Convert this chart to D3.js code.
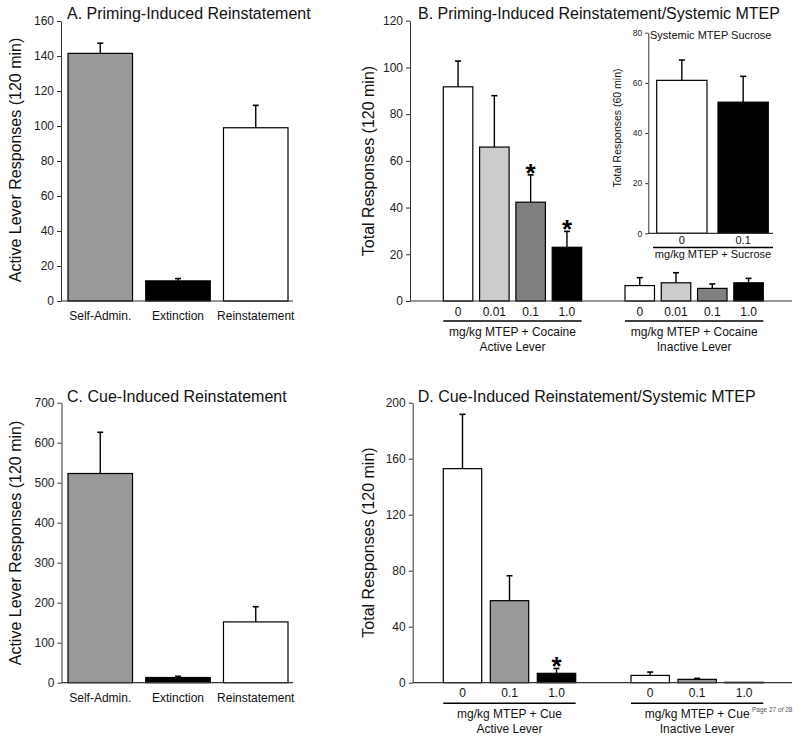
<!DOCTYPE html>
<html><head><meta charset="utf-8">
<script src="https://cdn.jsdelivr.net/npm/d3@7"></script>
<style>body{margin:0;background:#fff}svg text{font-family:"Liberation Sans",Arial,Helvetica,sans-serif}</style>
</head><body><svg id="c" width="800" height="741"></svg>
<script>
// ---------- DATA ----------
const phaseLabels = ["Self-Admin.", "Extinction", "Reinstatement"];
const primingMeans = [141.5, 11.5, 99];
const primingSem = [5.8, 1.3, 12.8];
const cueMeans = [523, 13, 152];
const cueSem = [103, 3, 38];
const phaseFills = ["#999999", "#000000", "#ffffff"];
const ticksA = [0, 20, 40, 60, 80, 100, 120, 140, 160];
const ticksC = [0, 100, 200, 300, 400, 500, 600, 700];

const dosesB = ["0", "0.01", "0.1", "1.0"];
const activeB = [91.7, 65.9, 42.3, 23];
const activeSemB = [11, 22, 11.7, 6.8];
const inactiveB = [6.6, 7.8, 5.4, 7.8];
const inactiveSemB = [3.4, 4.3, 1.9, 1.9];
const sigB = [false, false, true, true];
const fillsB = ["#ffffff", "#cccccc", "#808080", "#000000"];
const ticksB = [0, 20, 40, 60, 80, 100, 120];

const dosesSucrose = ["0", "0.1"];
const sucroseMeans = [61, 52.3];
const sucroseSem = [8.1, 10.3];
const fillsSucrose = ["#ffffff", "#000000"];
const ticksSucrose = [0, 20, 40, 60, 80];

const dosesD = ["0", "0.1", "1.0"];
const activeD = [152.9, 58.6, 6.7];
const activeSemD = [38.8, 17.8, 3.5];
const inactiveD = [5.2, 2.4, 0.3];
const inactiveSemD = [2.4, 0.7, 0];
const sigD = [false, false, true];
const fillsD = ["#ffffff", "#999999", "#000000"];
const ticksD = [0, 40, 80, 120, 160, 200];

// ---------- DRAWING ----------
const FONT = '"Liberation Sans", Arial, Helvetica, sans-serif';
const svg = d3.select("#c");

function yAxis(y, ticks, x0, fs, ts) {
  svg.append("g").attr("transform", `translate(${x0},0)`)
    .call(d3.axisLeft(y).tickValues(ticks).tickSize(ts).tickPadding(3).tickSizeOuter(0))
    .call(g => {
      g.attr("font-family", FONT).attr("font-size", fs);
      g.selectAll("text").attr("fill", "#222");
      g.selectAll("path,line").attr("stroke", "#333").attr("stroke-width", 1);
    });
}
function xLine(x1, x2, yv) {
  svg.append("line").attr("x1", x1).attr("x2", x2).attr("y1", yv).attr("y2", yv)
    .attr("stroke", "#333").attr("stroke-width", 1.2);
}
function bars(x, y, cats, vals, sems, fills, sig) {
  const g = svg.append("g");
  cats.forEach((c, i) => {
    const x0 = x(c), w = x.bandwidth(), cx = x0 + w / 2;
    const top = y(vals[i]), base = y(0);
    g.append("rect").attr("x", x0).attr("y", top).attr("width", w)
      .attr("height", Math.max(0.5, base - top))
      .attr("fill", fills[i]).attr("stroke", "#000").attr("stroke-width", 1.2);
    const et = y(vals[i] + sems[i]);
    if (sems[i] > 0) {
      g.append("line").attr("x1", cx).attr("x2", cx).attr("y1", top).attr("y2", et)
        .attr("stroke", "#000").attr("stroke-width", 1.4);
      g.append("line").attr("x1", cx - 3).attr("x2", cx + 3).attr("y1", et).attr("y2", et)
        .attr("stroke", "#000").attr("stroke-width", 1.6);
    }
    if (sig && sig[i]) {
      g.append("text").attr("x", cx).attr("y", et + 7).attr("text-anchor", "middle")
        .attr("font-size", 26).attr("font-weight", "bold").attr("fill", "#000").text("*");
    }
  });
}
function catLabels(x, cats, yv, fs) {
  cats.forEach(c => {
    svg.append("text").attr("x", x(c) + x.bandwidth() / 2).attr("y", yv)
      .attr("text-anchor", "middle").attr("font-size", fs).attr("fill", "#111").text(c);
  });
}
function groupCaption(x, cats, lineY, lines, lineYs, fs, x1, x2) {
  const a = x1 !== undefined ? x1 : x(cats[0]);
  const b = x2 !== undefined ? x2 : x(cats[cats.length - 1]) + x.bandwidth();
  svg.append("line").attr("x1", a).attr("x2", b).attr("y1", lineY).attr("y2", lineY)
    .attr("stroke", "#000").attr("stroke-width", 1.5);
  lines.forEach((t, i) => {
    svg.append("text").attr("x", (a + b) / 2).attr("y", lineYs[i]).attr("text-anchor", "middle")
      .attr("font-size", fs).attr("fill", "#111").text(t);
  });
}
function title(t, x, yv, fs) {
  svg.append("text").attr("x", x).attr("y", yv).attr("font-size", fs).attr("fill", "#111").text(t);
}
function yLabel(t, cx, cy, fs) {
  svg.append("text").attr("transform", `translate(${cx},${cy}) rotate(-90)`)
    .attr("text-anchor", "middle").attr("dy", "0.35em").attr("font-size", fs).attr("fill", "#111").text(t);
}

// ----- Panel A -----
{
  const x = d3.scaleBand().domain(phaseLabels).range([68, 288]).paddingInner(0.17);
  const y = d3.scaleLinear().domain([0, 160]).range([301, 21]);
  bars(x, y, phaseLabels, primingMeans, primingSem, phaseFills);
  yAxis(y, ticksA, 61, 12, 4);
  xLine(61, 293, y(0));
  catLabels(x, phaseLabels, 320, 12);
  title("A. Priming-Induced Reinstatement", 67, 19, 16);
  yLabel("Active Lever Responses (120 min)", 15, 160, 16);
}
// ----- Panel B -----
{
  const y = d3.scaleLinear().domain([0, 120]).range([301, 20.7]);
  const xa = d3.scaleBand().domain(dosesB).range([443.3, 581.7]).paddingInner(0.187);
  const xi = d3.scaleBand().domain(dosesB).range([625, 763.3]).paddingInner(0.187);
  bars(xa, y, dosesB, activeB, activeSemB, fillsB, sigB);
  bars(xi, y, dosesB, inactiveB, inactiveSemB, fillsB);
  yAxis(y, ticksB, 410, 12, 4);
  xLine(410, 792, y(0));
  catLabels(xa, dosesB, 316, 12);
  catLabels(xi, dosesB, 316, 12);
  groupCaption(xa, dosesB, 321, ["mg/kg MTEP + Cocaine", "Active Lever"], [336, 350.5], 12);
  groupCaption(xi, dosesB, 321, ["mg/kg MTEP + Cocaine", "Inactive Lever"], [336, 350.5], 12);
  title("B. Priming-Induced Reinstatement/Systemic MTEP", 418, 18.5, 16);
  yLabel("Total Responses (120 min)", 368, 161, 16);
}
// ----- Inset (sucrose) -----
{
  const y = d3.scaleLinear().domain([0, 80]).range([233.3, 32.7]);
  const x = d3.scaleBand().domain(dosesSucrose).range([656.7, 768.3]).paddingInner(0.18);
  bars(x, y, dosesSucrose, sucroseMeans, sucroseSem, fillsSucrose);
  yAxis(y, ticksSucrose, 648.3, 8.5, 3);
  xLine(648.3, 773, y(0));
  catLabels(x, dosesSucrose, 244, 11);
  groupCaption(x, dosesSucrose, 247.5, ["mg/kg MTEP + Sucrose"], [258], 11, 653, 773);
  title("Systemic MTEP Sucrose", 650, 39, 11);
  yLabel("Total Responses (60 min)", 617, 128, 10.5);
}
// ----- Panel C -----
{
  const x = d3.scaleBand().domain(phaseLabels).range([68, 288]).paddingInner(0.17);
  const y = d3.scaleLinear().domain([0, 700]).range([682.7, 402.7]);
  bars(x, y, phaseLabels, cueMeans, cueSem, phaseFills);
  yAxis(y, ticksC, 61.5, 12, 4);
  xLine(61.5, 293, y(0));
  catLabels(x, phaseLabels, 701.5, 12);
  title("C. Cue-Induced Reinstatement", 67, 401.5, 16);
  yLabel("Active Lever Responses (120 min)", 15, 543, 16);
}
// ----- Panel D -----
{
  const y = d3.scaleLinear().domain([0, 200]).range([682.7, 402.7]);
  const xa = d3.scaleBand().domain(dosesD).range([443.3, 575.7]).paddingInner(0.183);
  const xi = d3.scaleBand().domain(dosesD).range([631, 763.3]).paddingInner(0.183);
  bars(xa, y, dosesD, activeD, activeSemD, fillsD, sigD);
  bars(xi, y, dosesD, inactiveD, inactiveSemD, fillsD);
  yAxis(y, ticksD, 412.7, 12, 4);
  xLine(412.7, 792, y(0));
  catLabels(xa, dosesD, 697.3, 12);
  catLabels(xi, dosesD, 697.3, 12);
  groupCaption(xa, dosesD, 703.3, ["mg/kg MTEP + Cue", "Active Lever"], [718.3, 732.7], 12);
  groupCaption(xi, dosesD, 703.3, ["mg/kg MTEP + Cue", "Inactive Lever"], [718.3, 732.7], 12);
  title("D. Cue-Induced Reinstatement/Systemic MTEP", 417.7, 401.5, 16);
  yLabel("Total Responses (120 min)", 368, 542.5, 16);
}
// page footer
svg.append("text").attr("x", 752).attr("y", 712).attr("font-size", 6.5).attr("fill", "#555").text("Page 27 of 28");
</script>
</body></html>
